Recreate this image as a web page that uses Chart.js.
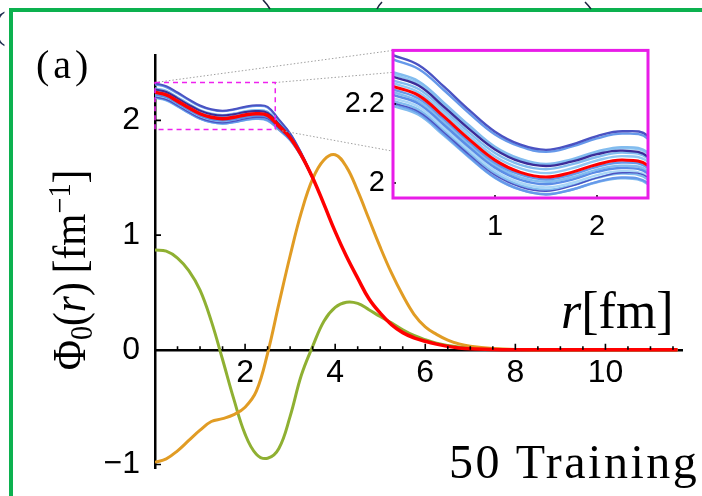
<!DOCTYPE html>
<html>
<head>
<meta charset="utf-8">
<script src="https://cdn.jsdelivr.net/npm/chart.js@4.4.1/dist/chart.umd.min.js"></script>
<style>
  html, body { margin: 0; padding: 0; background: #fff; }
  #wrap { position: relative; width: 702px; height: 496px; overflow: hidden; background: #fff; }
  #wrap canvas { position: absolute; }
  #main { left: 0; top: 0; }
  #inset { left: 345px; top: 30px; }
  .frame { position: absolute; left: 9px; top: 8px; width: 760px; height: 560px;
           border: 4px solid #0cb14f; box-sizing: border-box; }
  .tex { position: absolute; font-family: "Liberation Serif", "Times New Roman", serif;
         color: #000; white-space: nowrap; line-height: 1; }
  .tex sub, .tex sup { font-size: 0.68em; line-height: 0; position: relative; vertical-align: baseline; }
  .tex sub { top: 0.22em; }
  .tex sup { top: -0.48em; }
  #ytitle { left: 70px; top: 270px; font-size: 46px;
            transform: translate(-50%, -50%) rotate(-90deg) scaleX(0.9); }
  #edge { position: absolute; left: 0; top: 0; }
</style>
</head>
<body>
<div id="wrap">
  <canvas id="main" width="702" height="496"></canvas>
  <canvas id="inset" width="320" height="215"></canvas>
  <div class="frame"></div>
  <svg id="edge" width="702" height="12">
    <g stroke="#1c2440" stroke-width="1.6" fill="none">
      <path d="M263 0 Q267 4 270 9"/>
      <path d="M382 2 Q379 5 377 9"/>
      <path d="M585 2 Q588 5 591 9"/>
    </g>
  </svg>
  <div class="tex" style="left:-7px; top:6px; font-size:38px; color:#1c2b4f;">(</div>
  <div class="tex" style="left:36px; top:45px; font-size:40px; letter-spacing:4px;">(a)</div>
  <div class="tex" id="ytitle">Φ<sub>0</sub>(<i>r</i>)<span style="margin-left:10px"></span>[fm<sup>−1</sup>]</div>
  <div class="tex" style="left:561px; top:285px; font-size:52px;"><i>r</i>[fm]</div>
  <div class="tex" style="left:449px; top:438px; font-size:48px; letter-spacing:2.5px;">50 Training</div>
</div>
<script>
// radial grid (fm) shared by the three eigen-functions
const rGrid = [0, 0.25, 0.5, 0.75, 1.0, 1.25, 1.5, 1.75, 2.0, 2.25, 2.5, 2.75, 3.0, 3.25, 3.5,
               3.75, 4.0, 4.25, 4.5, 4.75, 5.0, 5.25, 5.5, 5.75, 6.0, 6.25, 6.5, 6.75, 7.0,
               7.5, 8, 9, 10, 11, 11.6];

// emulator mean, ground state (red)
const phiMean = [2.245, 2.222, 2.168, 2.110, 2.058, 2.027, 2.015, 2.027, 2.047, 2.058, 2.044, 1.952, 1.850, 1.695, 1.500,
                 1.270, 1.030, 0.815, 0.625, 0.445, 0.320, 0.220, 0.150, 0.105, 0.075, 0.050, 0.030, 0.017, 0.009,
                 0.003, 0.001, 0, 0, 0, 0];
// second state (orange)
const phiOrange = [-0.98, -0.95, -0.88, -0.79, -0.70, -0.625, -0.60, -0.565, -0.50, -0.36, -0.03, 0.40, 0.82, 1.20, 1.49,
                   1.655, 1.70, 1.595, 1.385, 1.14, 0.895, 0.67, 0.475, 0.31, 0.20, 0.135, 0.085, 0.052, 0.032,
                   0.012, 0.004, 0.001, 0, 0, 0];
// third state (green)
const phiGreen = [0.87, 0.86, 0.80, 0.69, 0.52, 0.25, -0.084, -0.43, -0.735, -0.91, -0.945, -0.86, -0.58, -0.22, 0.03,
                  0.25, 0.37, 0.415, 0.405, 0.35, 0.29, 0.235, 0.175, 0.125, 0.088, 0.058, 0.038, 0.024, 0.015,
                  0.006, 0.002, 0, 0, 0, 0];

// training solutions, sampled on the first 15 grid points (0 .. 3.5 fm)
const trainR = rGrid.slice(0, 15);
const trainingCurves = [
  [2.324, 2.299, 2.244, 2.184, 2.130, 2.097, 2.084, 2.097, 2.119, 2.131, 2.119, 2.008, 1.888, 1.714, 1.504],
  [2.313, 2.289, 2.235, 2.176, 2.123, 2.092, 2.079, 2.092, 2.113, 2.125, 2.112, 2.003, 1.884, 1.712, 1.503],
  [2.281, 2.258, 2.203, 2.145, 2.092, 2.061, 2.048, 2.060, 2.080, 2.091, 2.077, 1.977, 1.867, 1.703, 1.502],
  [2.275, 2.252, 2.198, 2.140, 2.088, 2.057, 2.045, 2.057, 2.077, 2.088, 2.074, 1.975, 1.865, 1.703, 1.502],
  [2.269, 2.247, 2.193, 2.136, 2.085, 2.054, 2.043, 2.054, 2.073, 2.082, 2.066, 1.969, 1.861, 1.701, 1.501],
  [2.260, 2.238, 2.185, 2.127, 2.076, 2.046, 2.035, 2.047, 2.066, 2.077, 2.062, 1.966, 1.859, 1.700, 1.501],
  [2.253, 2.230, 2.177, 2.119, 2.067, 2.037, 2.025, 2.037, 2.057, 2.068, 2.054, 1.960, 1.855, 1.698, 1.501],
  [2.237, 2.214, 2.161, 2.103, 2.051, 2.021, 2.009, 2.021, 2.041, 2.052, 2.038, 1.947, 1.847, 1.693, 1.500],
  [2.230, 2.207, 2.154, 2.096, 2.045, 2.014, 2.003, 2.014, 2.034, 2.044, 2.030, 1.941, 1.843, 1.691, 1.499],
  [2.223, 2.201, 2.147, 2.090, 2.039, 2.008, 1.997, 2.008, 2.028, 2.038, 2.024, 1.937, 1.840, 1.690, 1.499],
  [2.215, 2.193, 2.139, 2.082, 2.031, 2.000, 1.989, 2.000, 2.020, 2.030, 2.016, 1.931, 1.836, 1.688, 1.499],
  [2.208, 2.186, 2.133, 2.076, 2.025, 1.994, 1.983, 1.994, 2.013, 2.024, 2.009, 1.926, 1.832, 1.686, 1.498],
  [2.203, 2.181, 2.128, 2.071, 2.020, 1.990, 1.979, 1.992, 2.013, 2.026, 2.014, 1.929, 1.835, 1.687, 1.498],
  [2.201, 2.178, 2.124, 2.066, 2.014, 1.983, 1.971, 1.983, 2.003, 2.014, 2.000, 1.919, 1.828, 1.684, 1.498],
  [2.195, 2.173, 2.120, 2.064, 2.013, 1.983, 1.972, 1.983, 2.002, 2.012, 1.997, 1.917, 1.826, 1.683, 1.498]
];
// 0 = light, 1 = medium, 2 = dark
const trainShade = [2, 1, 0, 0, 2, 0, 0, 1, 0, 1, 0, 0, 2, 1, 0];
const shadeColors = [['#92c8f2', '#a9d6f7', '#82bcef'], ['#5b8de6', '#6699ea', '#5580e0'], ['#4a52c2', '#3c2c98', '#4660cc']];

// tick labels
const xTickMain = [2, 4, 6, 8, 10];
const yTickMain = [-1, 0, 1, 2];
const xTickInset = [1, 2];
const yTickInset = [2, 2.2];

// zoomed window shown in the inset
const zoomR = [0, 2.67];
const zoomPhi = [1.92, 2.33];

const pts = (xs, ys) => ys.map((v, i) => ({ x: xs[i], y: v }));

const trainSets = (width) => trainingCurves.map((c, i) => ({
  data: pts(trainR, c),
  borderColor: shadeColors[trainShade[i]][i % 3],
  borderWidth: trainShade[i] === 2 && i === 12 ? width * 0.6 : width,
  order: 4 - trainShade[i]
}));

const tickFont = { family: 'Liberation Sans', size: 32 };
const insetFont = { family: 'Liberation Sans', size: 29 };

// ---------- inset ----------
const insetFrame = {
  id: 'insetFrame',
  beforeDatasetsDraw(chart) {
    const { ctx, chartArea: a } = chart;
    ctx.save();
    ctx.fillStyle = '#fff';
    ctx.fillRect(a.left, a.top, a.width, a.height);
    ctx.restore();
  },
  afterDraw(chart) {
    const { ctx, chartArea: a, scales: { x, y } } = chart;
    ctx.save();
    ctx.strokeStyle = '#000';
    ctx.lineWidth = 1.5;
    ctx.beginPath();
    [0, ...xTickInset].forEach(v => {
      const px = x.getPixelForValue(v);
      ctx.moveTo(px, a.bottom); ctx.lineTo(px, a.bottom - 3);
    });
    yTickInset.forEach(v => {
      const py = y.getPixelForValue(v);
      ctx.moveTo(a.left, py); ctx.lineTo(a.left + 3, py);
    });
    ctx.stroke();
    ctx.strokeStyle = '#e81ce8';
    ctx.lineWidth = 3;
    ctx.strokeRect(a.left, a.top, a.width, a.height);
    ctx.restore();
  }
};

const insetChart = new Chart(document.getElementById('inset'), {
  type: 'line',
  data: {
    datasets: [
      { data: pts(trainR, phiMean.slice(0, 15)), borderColor: '#ff0000', borderWidth: 3, order: 0 },
      ...trainSets(2.4)
    ]
  },
  options: {
    responsive: false,
    animation: false,
    devicePixelRatio: 1,
    layout: { padding: { left: 48, top: 10, right: 17, bottom: 47 } },
    plugins: { legend: { display: false }, tooltip: { enabled: false } },
    elements: { point: { radius: 0 }, line: { tension: 0.4 } },
    scales: {
      x: {
        type: 'linear', min: 0, max: 2.5, position: { y: 1.962 },
        grid: { display: false }, border: { display: false },
        afterBuildTicks: s => { s.ticks = xTickInset.map(v => ({ value: v })); },
        ticks: { font: insetFont, color: '#000', padding: 4, maxRotation: 0, callback: v => String(v) }
      },
      y: {
        type: 'linear', min: 1.962, max: 2.336, position: { x: 0 },
        grid: { display: false }, border: { display: false },
        afterBuildTicks: s => { s.ticks = yTickInset.map(v => ({ value: v })); },
        ticks: { font: insetFont, color: '#000', callback: v => (v === 2 ? '2 ' : '2.2 ') }
      }
    }
  },
  plugins: [insetFrame]
});

// ---------- main panel ----------
const insetOffset = { x: 345, y: 30 };

const axisMarks = {
  id: 'axisMarks',
  afterDraw(chart) {
    const { ctx, scales: { x, y } } = chart;
    const y0 = y.getPixelForValue(0);
    const x0 = x.getPixelForValue(0);
    ctx.save();
    ctx.strokeStyle = '#000';
    ctx.lineWidth = 1.6;
    ctx.beginPath();
    for (let k = 1; k <= 23; k++) {
      const v = k * 0.5;
      const px = x.getPixelForValue(v);
      ctx.moveTo(px, y0);
      ctx.lineTo(px, y0 - (k % 4 === 0 ? 6 : 3.5));
    }
    [-1, 1, 2].forEach(v => {
      const py = y.getPixelForValue(v);
      ctx.moveTo(x0, py); ctx.lineTo(x0 + 6, py);
    });
    ctx.stroke();

    // zoom window and its connectors to the inset
    const bx0 = x.getPixelForValue(zoomR[0]), bx1 = x.getPixelForValue(zoomR[1]);
    const by0 = y.getPixelForValue(zoomPhi[1]), by1 = y.getPixelForValue(zoomPhi[0]);
    const ia = insetChart.chartArea;
    const il = ia.left + insetOffset.x, ir = ia.right + insetOffset.x;
    const it = ia.top + insetOffset.y, ib = ia.bottom + insetOffset.y;
    ctx.strokeStyle = '#a0a0a0';
    ctx.lineWidth = 1;
    ctx.setLineDash([1.5, 2]);
    ctx.beginPath();
    ctx.moveTo(bx0, by0); ctx.lineTo(il, it);
    ctx.moveTo(bx1, by0); ctx.lineTo(ir, it);
    ctx.moveTo(bx1, by1); ctx.lineTo(ir, ib);
    ctx.stroke();
    ctx.strokeStyle = '#ee22ee';
    ctx.lineWidth = 1.5;
    ctx.setLineDash([5, 4]);
    ctx.strokeRect(bx0, by0, bx1 - bx0, by1 - by0);
    ctx.restore();
  }
};

new Chart(document.getElementById('main'), {
  type: 'line',
  data: {
    datasets: [
      { data: pts(rGrid, phiMean), borderColor: '#ff0000', borderWidth: 3.5, order: 0 },
      { data: pts(rGrid, phiOrange), borderColor: '#e19c24', borderWidth: 3, order: 1 },
      { data: pts(rGrid, phiGreen), borderColor: '#8fb032', borderWidth: 3, order: 1 },
      ...trainSets(2)
    ]
  },
  options: {
    responsive: false,
    animation: false,
    devicePixelRatio: 1,
    layout: { padding: { left: 95, right: 20, top: 55, bottom: 28 } },
    plugins: { legend: { display: false }, tooltip: { enabled: false } },
    elements: { point: { radius: 0 }, line: { tension: 0.4 } },
    scales: {
      x: {
        type: 'linear', min: 0, max: 11.7, position: { y: 0 },
        grid: { display: false }, border: { color: '#000', width: 2.5 },
        afterBuildTicks: s => { s.ticks = xTickMain.map(v => ({ value: v })); },
        ticks: { font: tickFont, color: '#000', padding: -4, maxRotation: 0, callback: v => String(v) }
      },
      y: {
        type: 'linear', min: -1.03, max: 2.57, position: 'left',
        afterFit: s => { s.width = 60; },
        grid: { display: false }, border: { color: '#000', width: 2.5 },
        afterBuildTicks: s => { s.ticks = yTickMain.map(v => ({ value: v })); },
        ticks: { font: tickFont, color: '#000', padding: 7, callback: v => (v < 0 ? '−' + Math.abs(v) : String(v)) }
      }
    }
  },
  plugins: [axisMarks]
});
</script>
</body>
</html>
